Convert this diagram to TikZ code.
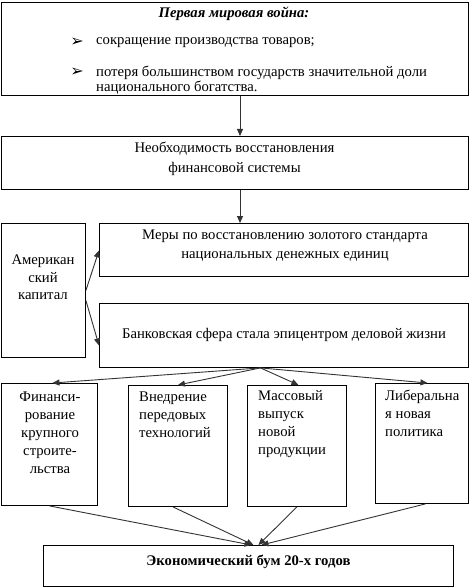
\documentclass[tikz,border=0pt]{standalone}
\usepackage{fontspec}
\setmainfont{Liberation Serif}
\newfontfamily\symfont{DejaVu Sans}
\usetikzlibrary{arrows.meta,calc}
\begin{document}
\begin{tikzpicture}[x=1pt,y=-1pt,
  box/.style={draw=black,line width=0.9pt,anchor=north west,inner sep=0pt},
  lbl/.style={inner sep=0pt,font=\fontsize{14.7}{18}\selectfont},
  arr/.style={draw=black!80,line width=0.9pt,-{Triangle[length=7pt,width=6pt]}}]
\useasboundingbox[fill=white] (0,0) rectangle (475,588);
% boxes
\node[box,minimum width=467pt,minimum height=93pt] (top) at (1,2) {};
\node[box,minimum width=467pt,minimum height=53pt] (nec) at (1,136) {};
\node[box,minimum width=84pt,minimum height=134pt] (amer) at (1,223) {};
\node[box,minimum width=369pt,minimum height=53pt] (mery) at (99,223) {};
\node[box,minimum width=369pt,minimum height=64pt] (bank) at (99,303) {};
\node[box,minimum width=96pt,minimum height=122pt] (f1) at (1,383) {};
\node[box,minimum width=99pt,minimum height=121pt] (f2) at (128,385) {};
\node[box,minimum width=99pt,minimum height=121pt] (f3) at (247,385) {};
\node[box,minimum width=93pt,minimum height=120pt] (f4) at (375,383) {};
\node[box,minimum width=410pt,minimum height=41pt] (boom) at (43,545) {};
% texts
\node[lbl,font=\fontsize{14.7}{18}\selectfont\bfseries\itshape] (title) at (234,14) {Первая мировая война:};
\node[lbl,font=\fontsize{16}{16}\symfont\bfseries] (m1) at (77,42) {➢};
\node[lbl,font=\fontsize{16}{16}\symfont\bfseries] (m2) at (77,72) {➢};
\node[lbl,anchor=west] (t1) at (96,43) {сокращение производства товаров;};
\node[lbl,anchor=west,align=left,font=\fontsize{14.7}{15}\selectfont] (t2) at (96,80) {потеря большинством государств значительной доли\\национального богатства.};
\node[lbl,align=center,font=\fontsize{14.7}{20}\selectfont] (tn) at (234.5,158.5) {Необходимость восстановления\\финансовой системы};
\node[lbl,align=center,font=\fontsize{14.7}{17.5}\selectfont] (ta) at (43,277.5) {Американ\\ский\\капитал};
\node[lbl,align=center,font=\fontsize{14.7}{19}\selectfont] (tm) at (285,245.5) {Меры по восстановлению золотого стандарта\\национальных денежных единиц};
\node[lbl] (tb) at (284,335) {Банковская сфера стала эпицентром деловой жизни};
\node[lbl,align=center] (tf1) at (50,432.5) {Финанси-\\рование\\крупного\\строите-\\льства};
\node[lbl,anchor=west,align=left] (tf2) at (139,415) {Внедрение\\передовых\\технологий};
\node[lbl,anchor=west,align=left] (tf3) at (258,424) {Массовый\\выпуск\\новой\\продукции};
\node[lbl,anchor=west,align=left] (tf4) at (385,413) {Либеральна\\я новая\\политика};
\node[lbl,font=\fontsize{14.7}{18}\selectfont\bfseries] (tboom) at (248.5,562) {Экономический бум 20-х годов};
% connectors
\coordinate (vx) at (240,0);
\draw[arr] (vx |- top.south) -- (vx |- nec.north);
\draw[arr] (vx |- nec.south) -- (vx |- mery.north);
\draw[arr] (amer.east) -- ($(mery.west)+(0,0.5)$);
\draw[arr] ($(amer.east)+(0,10)$) -- ($(bank.west)+(0,10)$);
\coordinate (hub) at ($(bank.south)+(-23.5,0)$);
\draw[arr] (hub) -- ($(f1.north)+(3,0)$);
\draw[arr] (hub) -- (f2.north);
\draw[arr] (hub) -- ($(f3.north)+(1.5,0)$);
\draw[arr] (hub) -- ($(f4.north)+(5.5,0)$);
\draw[arr] (f1.south) -- ($(boom.north)+(3,0)$);
\draw[arr] ($(f2.south)+(-5,0)$) -- ($(boom.north)+(5,0)$);
\draw[arr] (f3.south) -- ($(boom.north)+(10,0)$);
\draw[arr] ($(f4.south)+(3.5,0)$) -- ($(boom.north)+(13,0)$);
\end{tikzpicture}
\end{document}
